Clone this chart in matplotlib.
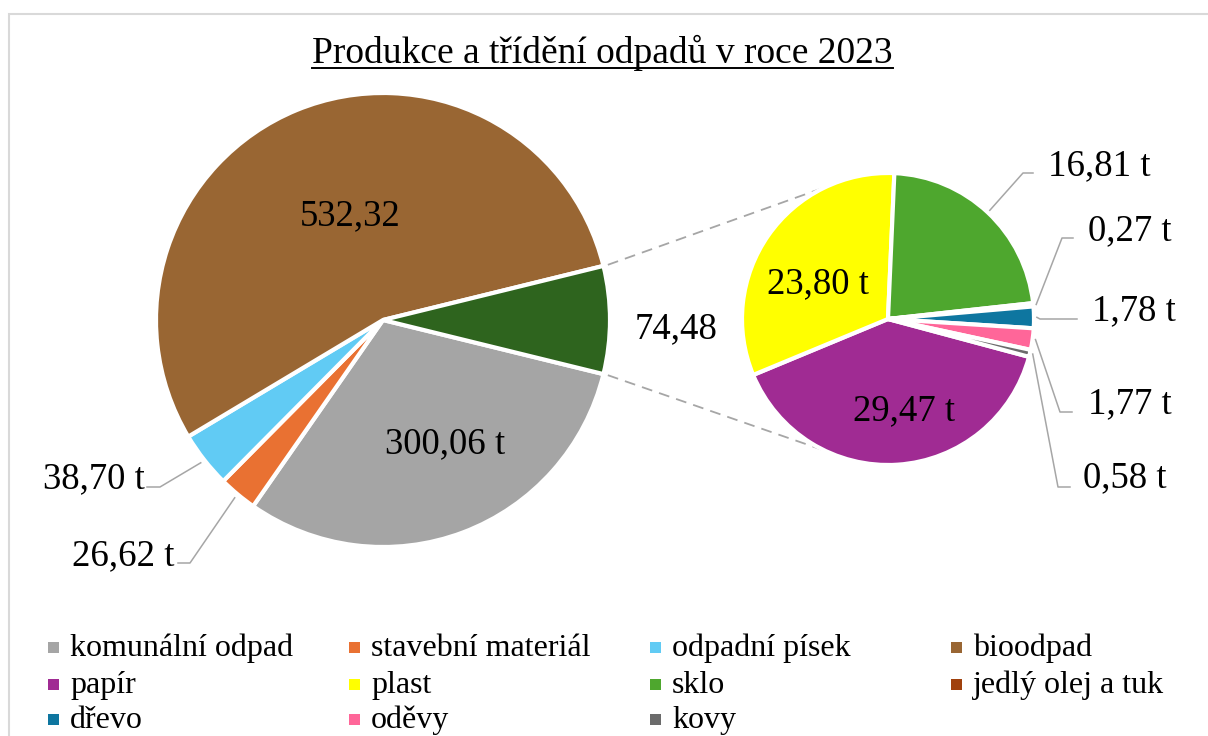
import matplotlib
matplotlib.use('Agg')
import matplotlib.pyplot as plt
import numpy as np
from matplotlib.patches import Rectangle

# ---------------- data ----------------
title = 'Produkce a třídění odpadů v roce 2023'
main_labels = ['komunální odpad', 'stavební materiál', 'odpadní písek', 'bioodpad']
main_values = [300.06, 26.62, 38.70, 532.32]
main_units = [' t', ' t', ' t', '']
other_unit = ''
sub_labels = ['papír', 'plast', 'sklo', 'jedlý olej a tuk', 'dřevo', 'oděvy', 'kovy']
sub_values = [29.47, 23.80, 16.81, 0.27, 1.78, 1.77, 0.58]
sub_units = [' t'] * 7

main_colors = ['#A5A5A5', '#E97132', '#61CBF4', '#996633']
other_color = '#2E641E'
sub_colors = ['#A02B93', '#FFFF00', '#4EA72E', '#A0410D', '#0E76A0', '#FF6699', '#6B6B6B']

# ---------------- layout ----------------
W, H = 1208, 736
FONT = 'Liberation Serif'
LBL_FS = 26.5
LEG_FS = 23
LEADER = '#A6A6A6'


def P(x, y):
    """pixel coords (y down) -> axes data coords (y up)"""
    return (x, H - y)


def fmt(v):
    return f'{v:.2f}'.replace('.', ',')


fig = plt.figure(figsize=(W / 100, H / 100), dpi=100)
ax = fig.add_axes([0, 0, 1, 1])

other = sum(sub_values)
pie1_values = main_values + [other]
pie1_colors = main_colors + [other_color]
pie1_units = main_units + [other_unit]

C1 = P(383, 320); R1 = 227
C2 = P(888, 319); R2 = 146

total1 = sum(pie1_values)
start1 = -other / total1 * 360 / 2
wedges1, _ = ax.pie(pie1_values, colors=pie1_colors, startangle=start1,
                    counterclock=False, center=C1, radius=R1,
                    wedgeprops=dict(edgecolor='white', linewidth=3))

start2 = 90 + (sub_values[0] + sub_values[1]) / other * 360 - 2.5
wedges2, _ = ax.pie(sub_values, colors=sub_colors, startangle=start2,
                    counterclock=False, center=C2, radius=R2,
                    wedgeprops=dict(edgecolor='white', linewidth=3))

ax.set_xlim(0, W)
ax.set_ylim(0, H)
ax.set_aspect('auto')
ax.axis('off')


def edge_point(center, r, ang, k=1.02):
    a = np.deg2rad(ang)
    return (center[0] + k * r * np.cos(a), center[1] + k * r * np.sin(a))


def mid(w):
    return (w.theta1 + w.theta2) / 2


# connector dashed lines
ow = wedges1[4]
for ang_main, ang_sub in [(ow.theta2, 115.5), (ow.theta1, -115.5)]:
    p1 = edge_point(C1, R1, ang_main, 1.02)
    p2 = edge_point(C2, R2, ang_sub, 1.0)
    ax.plot([p1[0], p2[0]], [p1[1], p2[1]], color=LEADER, lw=1.3,
            dashes=(6, 4), zorder=0)

# ---- main pie labels ----
# index: (text x, baseline y, ha, leader elbow, leader end)
main_lbl_pos = {
    0: (385, 453, 'left', None, None),
    1: (175, 565, 'right', (190, 563), (178, 563)),
    2: (145, 488, 'right', (160, 487), (147, 487)),
    3: (300, 225, 'left', None, None),
    4: (635, 338, 'left', None, None),
}
for i, w in enumerate(wedges1):
    tx, ty, ha, elbow, end = main_lbl_pos[i]
    ax.text(*P(tx, ty), fmt(pie1_values[i]) + pie1_units[i], ha=ha,
            va='baseline', fontsize=LBL_FS, family=FONT, color='black')
    if elbow is not None:
        a = edge_point(C1, R1, mid(w))
        e = P(*elbow); f = P(*end)
        ax.plot([a[0], e[0], f[0]], [a[1], e[1], f[1]], color=LEADER, lw=1.1)

# ---- secondary pie labels ----
sub_lbl_pos = {
    0: (853, 420, None, None),
    1: (767, 293, None, None),
    2: (1048, 175, (1023, 173), (1033, 173)),
    3: (1088, 240, (1062, 238), (1073, 238)),
    4: (1092, 320, (1040, 319), (1077, 319)),
    5: (1088, 413, (1060, 412), (1072, 412)),
    6: (1083, 487, (1058, 487), (1070, 487)),
}
for i, w in enumerate(wedges2):
    tx, ty, elbow, end = sub_lbl_pos[i]
    ax.text(*P(tx, ty), fmt(sub_values[i]) + sub_units[i], ha='left',
            va='baseline', fontsize=LBL_FS, family=FONT, color='black')
    if elbow is not None:
        a = edge_point(C2, R2, mid(w))
        e = P(*elbow); f = P(*end)
        ax.plot([a[0], e[0], f[0]], [a[1], e[1], f[1]], color=LEADER, lw=1.1)

# ---- title with underline ----
tt = ax.text(*P(312, 63), title, ha='left', va='baseline', fontsize=27,
             family=FONT, color='black')
fig.canvas.draw()
bb = tt.get_window_extent()
ax.plot([bb.x0, bb.x1], [H - 68, H - 68], color='black', lw=1.4)

# ---- legend (grid like Excel) ----
leg_labels = main_labels + sub_labels
leg_colors = main_colors + sub_colors
col_step = 301
row_base = [656, 693, 728]
for k, (lab, col) in enumerate(zip(leg_labels, leg_colors)):
    r, c = divmod(k, 4)
    bx = 48 + c * col_step
    by = row_base[r]
    ax.add_patch(Rectangle(P(bx, by - 3), 11, 11, facecolor=col,
                           edgecolor='none'))
    ax.text(*P(70 + c * col_step, by), lab, ha='left', va='baseline',
            fontsize=LEG_FS, family=FONT, color='black')

# ---- chart frame ----
ax.add_patch(Rectangle(P(9, H + 20), W + 20, H + 20 - 14, fill=False,
                       edgecolor='#D9D9D9', lw=1.5))

fig.savefig('out.png', dpi=100)
